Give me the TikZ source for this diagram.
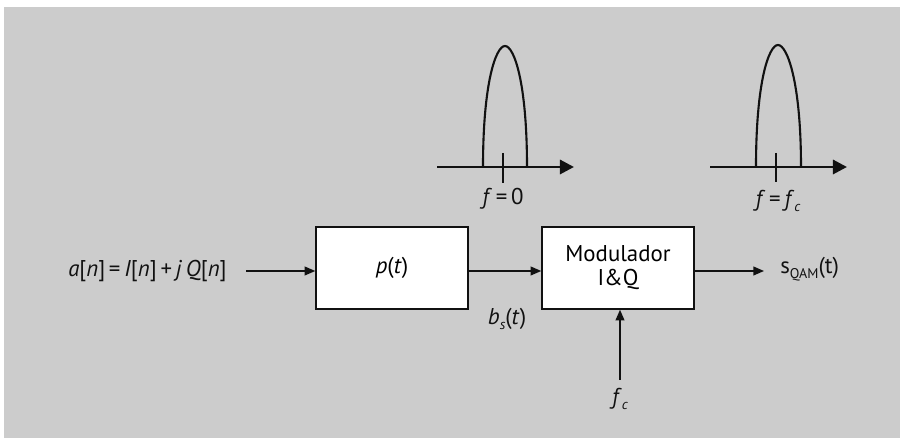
\documentclass[tikz,border=0pt]{standalone}
\usepackage{fontspec}
\setmainfont{PT Sans}
\usetikzlibrary{arrows.meta}
\definecolor{QamPanel}{HTML}{CCCCCC}
\definecolor{QamLine}{HTML}{111111}
\newcommand{\iv}[1]{\textit{#1}}

\begin{document}
\begin{tikzpicture}[x=0.02cm,y=-0.02cm,
    blockbox/.style={draw=QamLine,fill=white,line width=0.85pt,minimum width=152*0.02cm,minimum height=82*0.02cm,inner sep=0pt,font=\fontsize{13}{13.6}\selectfont,align=center},
    lbl/.style={text=QamLine,inner sep=0pt,font=\fontsize{13}{14}\selectfont},
    sig/.style={QamLine,line width=0.75pt,-{Triangle[length=6pt,width=5pt]}},
    faxis/.style={QamLine,line width=1.7pt,-{Triangle[length=8pt,width=8pt]}},
    pulse/.style={QamLine,line width=1.2pt}]
    \useasboundingbox (0,0) rectangle (900,438);
    \fill[white] (0,0) rectangle (900,438);
    \fill[QamPanel] (4,7) rectangle (900,438);

    \draw[pulse] (483,167) .. controls (483,82) and (496,46) .. (505,46) .. controls (514,46) and (527,82) .. (527,167);
    \draw[faxis] (437,167) -- (574,167);
    \draw[QamLine,line width=1.2pt] (503,153) -- (503,183);
    \node[lbl] (f0) at (503,199) {\iv{f}\,=\,0};

    \draw[pulse] (756,167) .. controls (756,81) and (769,45) .. (778,45) .. controls (787,45) and (801,81) .. (801,167);
    \draw[faxis] (710,167) -- (847,167);
    \draw[QamLine,line width=1.2pt] (776,153) -- (776,182);
    \node[lbl] (ffc) at (778,201) {\iv{f}\,=\,\iv{f}\raisebox{-0.45ex}{\footnotesize\iv{c}}};

    \node[blockbox] (pt) at (392,268) {\iv{p}(\iv{t})};
    \node[blockbox] (mod) at (618,268) {Modulador\\I\&Q};

    \node[lbl,anchor=east] (ain) at (227,271) {\iv{a}[\iv{n}]\,=\,\iv{I}[\iv{n}]\,+\,\iv{j}\,\iv{Q}[\iv{n}]};
    \coordinate (ainR) at (246,271);
    \node[lbl,anchor=west] (sout) at (780,269) {s\raisebox{-0.45ex}{\footnotesize QAM}(t)};
    \coordinate (soutL) at (764,271);
    \node[lbl] (bs) at (507,319) {\iv{b}\raisebox{-0.45ex}{\footnotesize\iv{s}}(\iv{t})};
    \node[lbl,anchor=north] (fc) at (620,388) {\iv{f}\raisebox{-0.45ex}{\footnotesize\iv{c}}};
    \coordinate (fcT) at (620,380);

    \draw[sig] (ainR) -- (ainR -| pt.west);
    \draw[sig] (pt.east |- ainR) -- (mod.west |- ainR);
    \draw[sig] (mod.east |- soutL) -- (soutL);
    \draw[sig] (fcT) -- (fcT |- mod.south);
  \end{tikzpicture}
\end{document}
